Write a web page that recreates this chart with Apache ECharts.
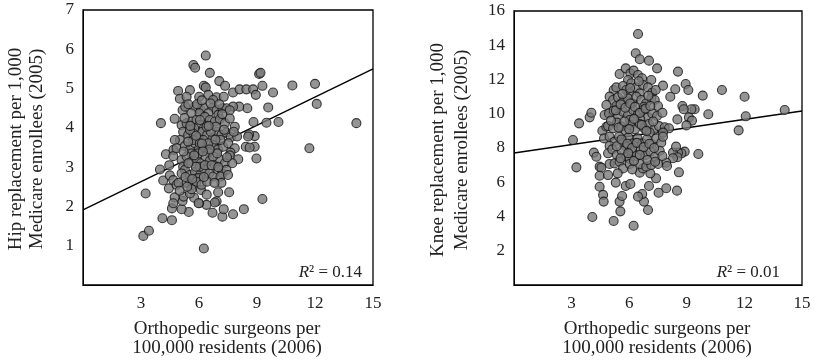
<!DOCTYPE html>
<html><head><meta charset="utf-8">
<script src="https://cdn.jsdelivr.net/npm/echarts@6/dist/echarts.min.js"></script>
<style>html,body{margin:0;padding:0;background:#fff}#c{width:815px;height:363px}</style>
</head><body><div id="c"></div>
<script>
// Left panel: hip replacement vs orthopedic surgeons
const hipPoints = [
[3.12,1.25],[3.41,1.38],[3.24,2.33],[4.03,4.12],[3.98,2.94],[4.11,1.70],[4.15,2.66],[4.29,3.33],[4.46,3.05],[4.60,1.65],
[4.60,1.95],[4.44,2.46],[4.74,4.23],[4.68,3.44],[4.67,3.28],[4.49,2.79],[4.67,2.67],[4.92,4.94],[5.01,4.74],[5.53,4.96],
[5.71,5.60],[5.80,5.53],[6.35,5.84],[6.25,0.93],[6.56,5.40],[7.05,5.19],[7.35,5.07],[6.25,5.07],[6.35,5.03],[7.76,4.90],
[8.10,4.98],[8.45,4.98],[8.80,4.98],[8.94,4.84],[9.11,5.37],[9.18,5.40],[9.28,5.07],[9.83,4.90],[10.83,5.08],[12.00,5.12],
[12.09,4.61],[14.14,4.12],[11.71,3.48],[10.11,4.15],[9.49,4.13],[9.58,4.52],[8.82,4.15],[8.97,3.22],[9.28,2.19],[8.88,3.79],
[8.59,3.83],[8.54,3.78],[8.88,3.52],[8.42,3.52],[8.62,3.50],[8.50,4.50],[8.08,4.54],[7.76,4.54],[8.32,1.93],[7.76,1.80],
[7.21,1.74],[7.28,1.93],[6.91,2.13],[6.82,2.10],[6.70,1.84],[7.56,2.36],[6.99,2.36],[6.39,2.04],[6.01,2.08],[5.47,1.86],
[5.10,1.93],[5.15,2.14],[5.20,2.25],[5.75,2.22],[6.10,2.42],[5.98,2.08],[5.53,2.33],[4.74,2.23],[4.67,2.08],[4.84,2.55],
[4.94,2.60],[5.36,4.79],[6.01,4.79],[6.48,4.84],[6.91,4.78],[7.28,4.79],[6.73,4.71],[5.15,4.45],[5.29,4.54],[5.79,4.54],
[6.10,4.45],[6.22,4.52],[6.73,4.52],[6.91,4.45],[7.21,4.50],[7.42,4.50],[7.59,4.45],[6.01,4.37],[6.48,4.37],[5.61,4.37],
[7.00,4.33],[5.10,4.07],[5.36,4.12],[5.61,4.16],[5.87,4.20],[6.04,4.07],[6.30,4.28],[6.56,4.20],[6.82,4.16],[7.08,4.22],
[7.34,4.12],[7.59,4.24],[7.85,4.03],[6.25,3.99],[5.75,3.99],[5.18,3.90],[5.44,3.82],[5.70,3.86],[5.96,3.76],[6.18,3.90],
[6.42,3.82],[6.70,3.73],[6.94,3.90],[7.16,3.82],[7.42,3.88],[7.65,3.76],[7.97,3.78],[5.01,3.69],[4.75,3.69],[4.84,3.48],
[5.27,3.54],[5.53,3.44],[5.79,3.61],[6.01,3.48],[6.25,3.52],[6.48,3.39],[6.73,3.56],[6.99,3.45],[7.25,3.52],[7.51,3.61],
[7.85,3.48],[7.63,3.37],[5.61,3.35],[5.10,3.18],[5.36,3.27],[5.61,3.14],[5.87,3.22],[6.10,3.10],[6.34,3.27],[6.56,3.16],
[6.82,3.05],[7.08,3.20],[7.34,3.10],[7.59,3.30],[8.03,3.20],[7.72,3.10],[5.18,3.01],[5.27,2.93],[5.53,2.80],[5.79,2.88],
[6.06,2.80],[6.30,2.93],[6.53,2.84],[6.73,2.76],[6.99,2.93],[7.21,2.84],[7.42,2.93],[7.11,2.76],[5.10,2.84],[5.96,2.72],
[5.36,2.60],[5.67,2.55],[5.87,2.63],[6.13,2.55],[6.42,2.63],[7.16,2.60],[5.61,2.44],[5.39,2.50],[5.70,3.69],[5.96,3.35],
[6.22,3.69],[6.48,3.61],[6.61,3.90],[6.04,3.01],[6.30,3.05],[5.84,3.01],[6.73,3.27],[6.94,3.35],[5.44,3.65],[6.39,4.03],
[5.53,3.95],[6.87,4.03],[7.11,3.69],[6.04,3.61],
[5.25,4.25],[5.45,4.60],[5.90,4.60],[6.15,4.70],[6.60,4.62],[7.05,4.60],[5.55,4.05],[5.85,3.80],[6.15,3.60],[6.55,3.45],
[6.85,3.70],[7.30,3.95],[5.20,3.40],[5.45,3.10],[5.75,3.30],[6.20,3.40],[6.65,3.05],[7.00,3.00],[7.45,3.25],[5.30,2.75],
[5.65,2.70],[6.25,2.75],[6.80,2.60],[7.50,2.80],[6.40,2.30],[5.00,2.40],[7.80,3.90],[7.20,4.35],[6.05,4.20],[6.50,4.05]
];
// Right panel: knee replacement vs orthopedic surgeons
const kneePoints = [
[3.07,8.47],[3.25,6.87],[3.39,9.44],[3.94,9.79],[4.03,10.06],[4.08,3.97],[4.16,7.73],[4.29,7.49],[4.46,6.91],[4.55,6.85],
[4.46,6.38],[4.46,5.74],[4.64,5.26],[4.67,4.87],[4.60,9.01],[4.69,8.56],[4.72,9.93],[4.81,9.24],[5.19,3.74],[5.54,4.30],
[5.50,4.87],[5.63,5.20],[5.30,5.98],[5.82,5.78],[6.06,5.90],[6.23,3.46],[6.46,14.66],[6.34,13.53],[6.55,13.18],[7.03,13.10],
[7.45,12.65],[8.54,12.46],[8.94,11.74],[9.08,11.39],[8.40,11.43],[7.76,11.64],[8.14,10.99],[9.83,11.06],[10.83,11.39],[12.01,10.99],
[12.07,9.85],[14.10,10.22],[11.70,9.03],[10.12,9.97],[9.41,10.26],[9.24,10.26],[8.77,10.45],[8.84,10.26],[9.11,9.79],[9.27,9.60],
[8.98,9.32],[8.51,9.67],[9.60,7.65],[8.89,7.79],[8.72,7.69],[8.54,7.73],[8.28,7.73],[8.44,8.08],[8.51,7.46],[8.28,7.40],
[7.93,7.14],[7.97,6.95],[8.59,6.58],[8.49,5.51],[7.93,5.65],[7.53,5.39],[7.40,6.23],[7.03,5.78],[6.98,4.38],[6.77,4.87],
[6.68,5.31],[6.46,5.16],[7.10,6.52],[6.55,6.56],[6.72,6.81],[5.50,12.32],[5.82,12.65],[6.06,12.36],[6.23,12.52],[6.46,12.26],
[6.67,12.07],[7.15,11.97],[5.94,11.97],[5.19,11.39],[5.33,11.54],[5.68,11.62],[5.85,11.39],[6.11,11.78],[6.37,11.54],[6.72,11.68],
[6.98,11.54],[7.20,11.23],[7.38,11.39],[6.55,11.19],[6.01,11.19],[4.98,11.00],[5.16,10.80],[5.42,10.96],[5.68,10.71],[5.94,10.90],
[6.16,10.61],[6.37,11.00],[6.63,10.80],[6.89,10.61],[7.15,10.90],[7.33,10.80],[7.50,10.45],[4.81,10.51],[5.33,10.45],[6.77,10.41],
[4.95,10.02],[5.19,10.18],[5.42,9.83],[5.68,10.12],[5.94,9.93],[6.20,10.22],[6.46,9.99],[6.72,10.22],[6.98,9.79],[7.20,10.02],
[7.45,9.87],[7.73,10.06],[6.03,9.64],[6.58,9.67],[4.90,9.28],[5.16,9.15],[5.36,9.48],[5.59,9.25],[5.82,9.01],[6.06,9.34],
[6.30,9.09],[6.55,9.40],[6.79,9.15],[7.03,9.40],[7.27,9.05],[7.55,9.28],[7.85,9.21],[8.07,9.15],[7.76,8.90],[7.07,8.90],
[4.98,8.66],[5.24,8.37],[5.47,8.66],[5.71,8.31],[5.96,8.62],[6.20,8.27],[6.44,8.56],[6.68,8.27],[6.93,8.51],[7.17,8.23],
[7.41,8.56],[7.67,8.31],[7.76,8.66],[4.98,8.12],[5.85,8.08],[4.90,7.69],[5.12,7.92],[5.36,7.59],[5.61,7.84],[5.85,7.49],
[6.11,7.79],[6.37,7.53],[6.61,7.88],[6.86,7.59],[7.10,7.79],[7.34,7.49],[7.59,7.84],[7.73,7.53],[6.03,7.34],[4.98,7.07],
[5.24,7.10],[5.50,7.20],[5.68,6.81],[6.03,7.07],[6.16,6.75],[6.58,7.07],[6.89,6.91],[7.15,7.01],[7.50,7.07],[5.40,6.52],
[4.90,6.42],
[5.30,10.20],[5.55,10.55],[5.80,10.35],[6.05,10.60],[6.30,10.40],[6.55,10.05],[6.85,10.30],[7.10,10.45],[5.45,9.20],[5.75,9.55],
[6.00,9.10],[6.25,9.70],[6.65,9.35],[6.90,9.00],[7.25,9.55],[5.35,8.10],[5.60,8.50],[5.90,8.25],[6.15,8.00],[6.40,8.30],
[6.75,8.05],[7.05,8.25],[7.30,8.00],[5.55,7.40],[5.95,7.70],[6.25,7.25],[6.55,7.60],[6.95,7.30],[7.35,7.20],[5.05,9.60],
[6.05,11.50],[6.50,11.90],[5.65,11.15],[7.00,11.05]
];
const hipTrend = [[0,1.91],[15,5.50]];
const kneeTrend = [[0,7.71],[15,10.16]];
const xTicks = [3,6,9,12,15];
const hipYTicks = [1,2,3,4,5,6,7];
const kneeYTicks = [2,4,6,8,10,12,14,16];
const xTitle = 'Orthopedic surgeons per\n100,000 residents (2006)';
const hipYTitle = 'Hip replacement per 1,000\nMedicare enrollees (2005)';
const kneeYTitle = 'Knee replacement per 1,000\nMedicare enrollees (2005)';

const FONT = '"Liberation Serif", "DejaVu Serif", serif';
const chart = echarts.init(document.getElementById('c'), null, {renderer:'canvas'});

function xAxis(idx){
  return {type:'value', gridIndex:idx, min:0, max:15, interval:3,
    axisLine:{show:true, lineStyle:{color:'#000', width:1}}, axisTick:{show:false}, splitLine:{show:false},
    axisLabel:{fontFamily:FONT, fontSize:17, color:'#222', margin:10,
      formatter:v => xTicks.includes(v) ? String(v) : ''}};
}
function yAxis(idx, max, interval, ticks, margin){
  return {type:'value', gridIndex:idx, min:0, max:max, interval:interval,
    axisLine:{show:true, lineStyle:{color:'#000', width:1}}, axisTick:{show:false}, splitLine:{show:false},
    axisLabel:{fontFamily:FONT, fontSize:17, color:'#222', margin:margin,
      formatter:v => ticks.includes(v) ? String(v) : ''}};
}
const scatterStyle = {color:'#7a7a7a', borderColor:'#111', borderWidth:1.1};
const titleFont = '19px ' + FONT;
const rich = {i:{font:'italic 17px '+FONT, fill:'#222'}, n:{font:'17px '+FONT, fill:'#222'}};

chart.setOption({
  animation:false,
  grid:[
    {left:83, top:10, width:290, height:275, show:true, borderColor:'#000', borderWidth:1.3, backgroundColor:'transparent'},
    {left:514, top:11, width:288, height:274, show:true, borderColor:'#000', borderWidth:1.3, backgroundColor:'transparent'}
  ],
  xAxis:[xAxis(0), xAxis(1)],
  yAxis:[yAxis(0,7,1,hipYTicks,9), yAxis(1,16,2,kneeYTicks,9)],
  series:[
    {type:'line', xAxisIndex:0, yAxisIndex:0, data:hipTrend, symbol:'none', lineStyle:{color:'#000', width:1.4}, z:1},
    {type:'scatter', xAxisIndex:0, yAxisIndex:0, data:hipPoints, symbolSize:9, itemStyle:scatterStyle, z:2},
    {type:'line', xAxisIndex:1, yAxisIndex:1, data:kneeTrend, symbol:'none', lineStyle:{color:'#000', width:1.4}, z:1},
    {type:'scatter', xAxisIndex:1, yAxisIndex:1, data:kneePoints, symbolSize:9, itemStyle:scatterStyle, z:2}
  ],
  graphic:[
    {type:'text', x:227, y:339, style:{text:xTitle, font:titleFont, fill:'#222', align:'center', verticalAlign:'middle', lineHeight:19}},
    {type:'text', x:657, y:339, style:{text:xTitle, font:titleFont, fill:'#222', align:'center', verticalAlign:'middle', lineHeight:19}},
    {type:'text', x:27, y:149, rotation:Math.PI/2, style:{text:hipYTitle, font:titleFont, fill:'#222', align:'center', verticalAlign:'middle', lineHeight:21}},
    {type:'text', x:450, y:150, rotation:Math.PI/2, style:{text:kneeYTitle, font:titleFont, fill:'#222', align:'center', verticalAlign:'middle', lineHeight:24}},
    {type:'text', x:362, y:273, style:{text:'{i|R}{n|² = 0.14}', align:'right', verticalAlign:'middle', rich:rich, font:'17px '+FONT, fill:'#222'}},
    {type:'text', x:780, y:273, style:{text:'{i|R}{n|² = 0.01}', align:'right', verticalAlign:'middle', rich:rich, font:'17px '+FONT, fill:'#222'}}
  ]
});
</script></body></html>
